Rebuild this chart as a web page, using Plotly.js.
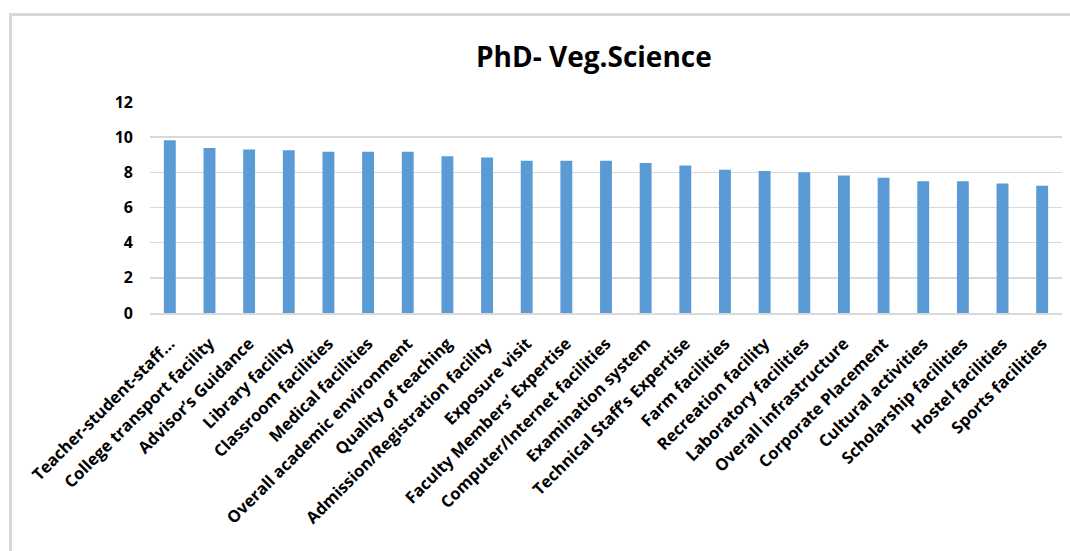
<!DOCTYPE html>
<html>
<head>
<meta charset="utf-8">
<script src="https://cdn.plot.ly/plotly-3.0.1.min.js"></script>
<style>
  html, body { margin: 0; padding: 0; background: #fff; overflow: hidden; }
  #chart { position: absolute; left: 0; top: 0; width: 1070px; height: 551px; }
  #frame { position: absolute; left: 9px; top: 13px; width: 2000px; height: 2000px;
           border-left: 3px solid #d9d9d9; border-top: 3px solid #d9d9d9; pointer-events: none; }
</style>
</head>
<body>
<div id="chart"></div>
<div id="frame"></div>
<script>
const categories = [
  "Teacher-student-staff…",
  "College transport facility",
  "Advisor’s Guidance",
  "Library facility",
  "Classroom facilities",
  "Medical facilities",
  "Overall academic environment",
  "Quality of teaching",
  "Admission/Registration facility",
  "Exposure visit",
  "Faculty Members’ Expertise",
  "Computer/Internet facilities",
  "Examination system",
  "Technical Staff’s Expertise",
  "Farm facilities",
  "Recreation facility",
  "Laboratory facilities",
  "Overall infrastructure",
  "Corporate Placement",
  "Cultural activities",
  "Scholarship facilities",
  "Hostel facilities",
  "Sports facilities"
];
const scores = [9.83, 9.38, 9.30, 9.25, 9.17, 9.17, 9.17, 8.92, 8.85, 8.66, 8.66, 8.66,
                8.53, 8.39, 8.15, 8.07, 8.01, 7.82, 7.69, 7.50, 7.50, 7.37, 7.24];
const yTicks = [0, 2, 4, 6, 8, 10, 12];
const chartTitle = "PhD- Veg.Science";

const FONT = "Open Sans, Liberation Sans, sans-serif";

Plotly.newPlot("chart", [{
  type: "bar",
  x: categories,
  y: scores,
  marker: { color: "#5B9BD5" },
  hoverinfo: "x+y"
}], {
  width: 1070,
  height: 551,
  margin: { l: 150, r: 8, t: 102, b: 238 },
  paper_bgcolor: "#ffffff",
  plot_bgcolor: "#ffffff",
  bargap: 0.7,
  showlegend: false,
  title: {
    text: chartTitle,
    x: 0.555,
    xanchor: "center",
    y: 0.897,
    yanchor: "middle",
    font: { family: FONT, size: 28, color: "#000000", weight: "bold" }
  },
  xaxis: {
    type: "category",
    tickangle: -45,
    tickfont: { family: FONT, size: 16.5, color: "#000000", weight: "bold" },
    showgrid: false,
    showline: true,
    linecolor: "#d9d9d9",
    linewidth: 1.5,
    ticks: "",
    ticklabelstandoff: 13,
    automargin: false
  },
  yaxis: {
    range: [0, 12],
    tickvals: yTicks,
    ticktext: yTicks.map(String),
    tickfont: { family: FONT, size: 16, color: "#000000", weight: "bold" },
    showgrid: true,
    gridcolor: "#d9d9d9",
    gridwidth: 1.5,
    zeroline: false,
    showline: false,
    ticks: "",
    ticklabelstandoff: 16,
    automargin: false
  }
}, { displayModeBar: false, staticPlot: true });
</script>
</body>
</html>
